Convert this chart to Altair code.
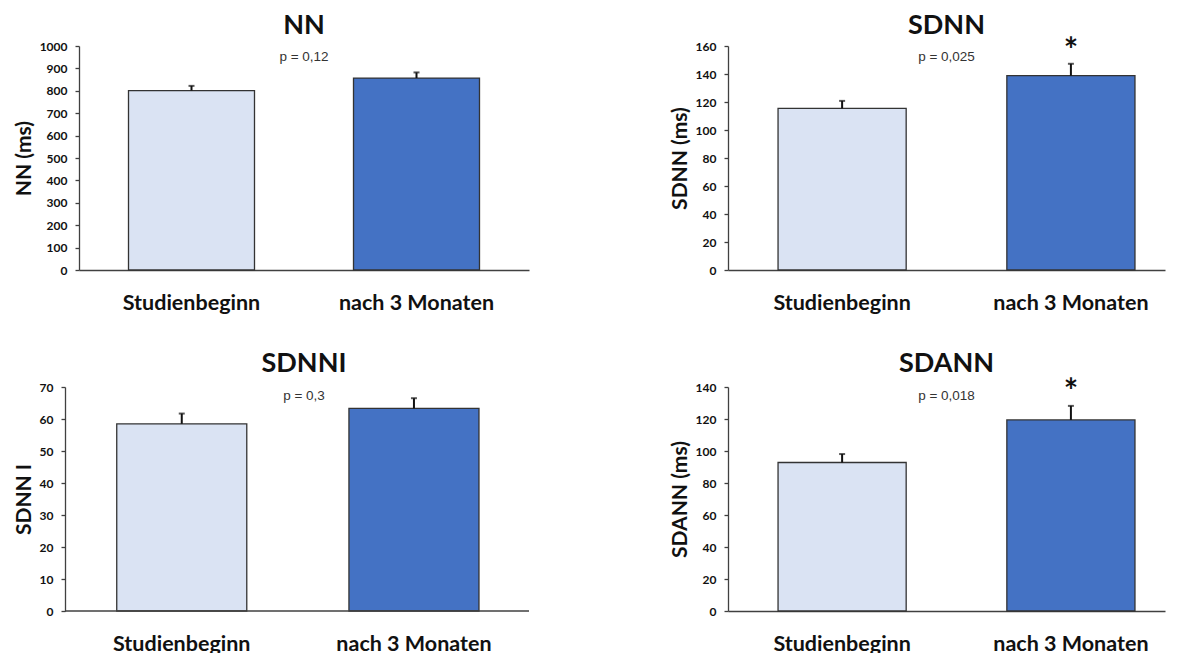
import altair as alt
import pandas as pd

categories = ["Studienbeginn", "nach 3 Monaten"]
panel_titles = ["NN", "SDNN", "SDNNI", "SDANN"]
y_titles = ["NN (ms)", "SDNN (ms)", "SDNN I", "SDANN (ms)"]

nn_means = [801, 857]
nn_errors = [21, 25]
sdnn_means = [115.5, 138.8]
sdnn_errors = [5.3, 8.5]
sdnni_means = [58.5, 63.3]
sdnni_errors = [3.2, 3.2]
sdann_means = [92.8, 119.4]
sdann_errors = [5.3, 8.8]

y_max = [1000, 160, 70, 140]
y_step = [100, 20, 10, 20]
p_labels = ["p = 0,12", "p = 0,025", "p = 0,3", "p = 0,018"]
significant = [False, True, False, True]
bar_colors = ["#DAE3F3", "#4472C4"]

FONT = "Lato"
DARK = "#111111"
AXIS_GREY = "#404040"


def panel(i, means, errors, width, pad_outer, align, p_y, title_offset,
          y_offset=0):
    df = pd.DataFrame({"cat": categories, "mean": means, "err": errors})
    df["upper"] = df["mean"] + df["err"]

    xscale = alt.Scale(paddingInner=0.44, paddingOuter=pad_outer, align=align)
    x_axis = alt.Axis(domain=(y_offset == 0), title=None)
    x = alt.X("cat:N", sort=categories, scale=xscale, axis=x_axis)
    y_scale = alt.Scale(domain=[0, y_max[i]], nice=False, zero=True)
    y_axis = alt.Axis(
        title=y_titles[i],
        values=list(range(0, y_max[i] + 1, y_step[i])),
        format="d",
        labelOverlap=False,
        offset=y_offset,
    )

    def yy(field):
        return alt.Y(field, scale=y_scale, axis=y_axis)

    base = alt.Chart(df)
    bars = base.mark_bar(stroke="#333333", strokeWidth=1.3).encode(
        x=x,
        y=yy("mean:Q"),
        fill=alt.Fill(
            "cat:N",
            scale=alt.Scale(domain=categories, range=bar_colors),
            legend=None,
        ),
    )
    err = base.mark_rule(color=DARK, strokeWidth=2).encode(
        x=x,
        y=yy("mean:Q"),
        y2="upper:Q",
    )
    cap = base.mark_tick(color=DARK, thickness=2, size=6).encode(
        x=x,
        y=yy("upper:Q"),
    )
    ptext = (
        alt.Chart(pd.DataFrame({"label": [p_labels[i]]}))
        .mark_text(font="Liberation Sans", fontSize=13.5, color="#333333",
                   baseline="middle", align="center")
        .encode(x=alt.value(width / 2), y=alt.value(p_y), text="label:N")
    )
    star_df = pd.DataFrame({
        "cat": [categories[1]],
        "s": ["*"],
        "show": [1 if significant[i] else 0],
    })
    star = (
        alt.Chart(star_df)
        .mark_text(font=FONT, fontWeight="bold", fontSize=34, color=DARK,
                   baseline="alphabetic", align="center")
        .encode(
            x=x,
            y=alt.value(16),
            text="s:N",
            opacity=alt.Opacity("show:Q", scale=None, legend=None),
        )
    )
    layers = [bars, err, cap, ptext, star]
    if y_offset:
        # the y axis sits left of the plot here, so the baseline runs out to it
        base_df = pd.DataFrame({"v": [0]})
        baseline = (
            alt.Chart(base_df)
            .mark_rule(color=AXIS_GREY, strokeWidth=1.3)
            .encode(
                y=yy("v:Q"),
                x=alt.value(-y_offset),
                x2=alt.value(width),
            )
        )
        layers.append(baseline)
    return alt.layer(*layers).properties(
        width=width,
        height=224,
        title=alt.TitleParams(
            text=panel_titles[i],
            font=FONT,
            fontSize=27,
            fontWeight="bold",
            color=DARK,
            anchor="middle",
            frame="group",
            offset=title_offset,
        ),
    )


p1 = panel(0, nn_means, nn_errors, 450, 0.22, 0.5, 11, -4.5)
p2 = panel(1, sdnn_means, sdnn_errors, 437, 0.175, 0.625, 11, -4.5)
p3 = panel(2, sdnni_means, sdnni_errors, 450, 0.189, 0.43, 9, -1.5, y_offset=14)
p4 = panel(3, sdann_means, sdann_errors, 437, 0.175, 0.625, 9, -1.5)

chart = (
    alt.concat(p1, p2, p3, p4, columns=2,
               spacing={"row": 35, "column": 139})
    .properties(padding={"left": 5, "top": 3, "right": 5, "bottom": 0},
                background="white")
    .configure_view(stroke=None)
    .configure_axis(
        grid=False,
        domainColor=AXIS_GREY,
        domainWidth=1.3,
        tickColor=AXIS_GREY,
        tickWidth=1.3,
        labelFont=FONT,
        labelFontWeight="bold",
        labelColor=DARK,
        titleFont=FONT,
        titleFontWeight="bold",
        titleColor=DARK,
    )
    .configure_axisX(
        ticks=False,
        labelAngle=0,
        labelPadding=22,
        labelFontSize=21.5,
    )
    .configure_axisY(
        tickSize=4,
        labelPadding=8,
        labelFontSize=12,
        titleFontSize=21,
        titlePadding=5,
        labelOverlap=False,
    )
)

chart.save("out.html", embed_options={"renderer": "svg", "actions": False})
